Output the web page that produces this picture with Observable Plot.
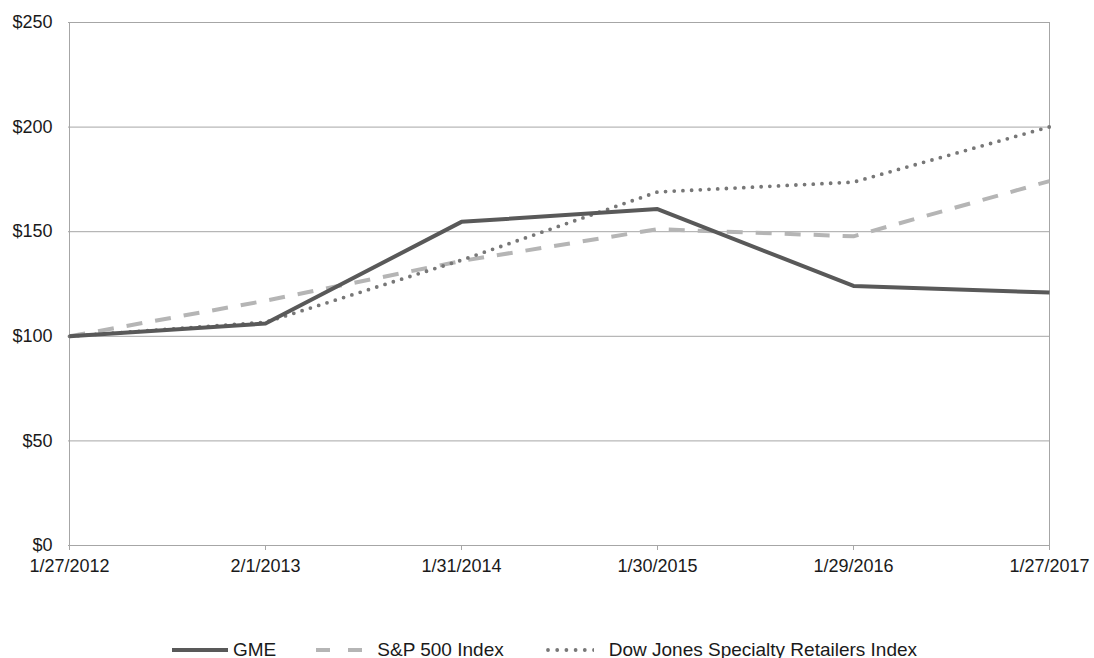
<!DOCTYPE html>
<html>
<head>
<meta charset="utf-8">
<script src="https://cdn.jsdelivr.net/npm/d3@7"></script>
<script src="https://cdn.jsdelivr.net/npm/@observablehq/plot@0.6"></script>
<style>
  html, body { margin: 0; padding: 0; background: #ffffff; }
  body { width: 1094px; height: 658px; position: relative; overflow: hidden; font-family: "Liberation Sans", Arial, sans-serif; }
  #chart { position: absolute; left: 0; top: 0; }
  #legend { position: absolute; left: 172px; top: 639px; height: 22px; line-height: 22px; display: flex; align-items: center; font-size: 19px; color: #1a1a1a; white-space: nowrap; }
  #legend .item { display: flex; align-items: center; }
  #legend svg { display: block; }
</style>
</head>
<body>
<div id="chart"></div>
<div id="legend"></div>
<script>
const dates = ["1/27/2012", "2/1/2013", "1/31/2014", "1/30/2015", "1/29/2016", "1/27/2017"];
const gme = [100, 106.1, 154.7, 160.8, 124.1, 120.9];
const sp500 = [100, 117.0, 136.0, 151.2, 147.8, 174.2];
const djsr = [100, 106.7, 136.4, 169.0, 173.7, 200.1];
const yTicks = [0, 50, 100, 150, 200, 250];
const seriesNames = ["GME", "S&P 500 Index", "Dow Jones Specialty Retailers Index"];

const styles = {
  "GME": {stroke: "#595959", strokeWidth: 4, strokeDasharray: null, strokeLinecap: "butt", legendDash: null},
  "S&P 500 Index": {stroke: "#b5b5b5", strokeWidth: 4, strokeDasharray: "16,13", strokeLinecap: "butt", legendDash: "14,18"},
  "Dow Jones Specialty Retailers Index": {stroke: "#777777", strokeWidth: 3.8, strokeDasharray: "0,8.7", strokeLinecap: "round", legendDash: "0,9.2"}
};

const rows = (name, vals) => dates.map((d, i) => ({date: d, value: vals[i], series: name}));
const gmeRows = rows(seriesNames[0], gme);
const spRows = rows(seriesNames[1], sp500);
const djRows = rows(seriesNames[2], djsr);

const lineMark = (data, name) => Plot.line(data, {
  x: "date", y: "value",
  stroke: styles[name].stroke,
  strokeWidth: styles[name].strokeWidth,
  strokeDasharray: styles[name].strokeDasharray,
  strokeLinecap: styles[name].strokeLinecap,
  strokeLinejoin: "round"
});

const plot = Plot.plot({
  width: 1094,
  height: 600,
  marginLeft: 68,
  marginRight: 44,
  marginTop: 22,
  marginBottom: 55,
  style: {fontFamily: "'Liberation Sans', Arial, sans-serif", background: "#ffffff", color: "#1a1a1a"},
  x: {type: "point", domain: dates, padding: 0, label: null},
  y: {domain: [0, 250], label: null},
  marks: [
    Plot.gridY(yTicks, {stroke: "#a6a6a6", strokeOpacity: 1, strokeWidth: 1}),
    Plot.ruleX([dates[0], dates[dates.length - 1]], {stroke: "#a6a6a6", strokeWidth: 1}),
    Plot.axisX(dates, {tickSize: 5, tickPadding: 9, stroke: "#a6a6a6", fill: "#1a1a1a", fontSize: 18, label: null}),
    Plot.axisY(yTicks, {tickSize: 0, tickPadding: 16, tickFormat: d => "$" + d, fontSize: 18, fill: "#1a1a1a", label: null}),
    lineMark(spRows, seriesNames[1]),
    lineMark(djRows, seriesNames[2]),
    lineMark(gmeRows, seriesNames[0])
  ]
});
document.getElementById("chart").appendChild(plot);

// Legend
const legend = document.getElementById("legend");
const legendLayout = [
  {name: seriesNames[0], w: 56, gapAfterSample: 5, gapBefore: 0},
  {name: seriesNames[1], w: 46, gapAfterSample: 15, gapBefore: 40},
  {name: seriesNames[2], w: 48, gapAfterSample: 15, gapBefore: 42}
];
legendLayout.forEach(it => {
  const s = styles[it.name];
  const item = document.createElement("div");
  item.className = "item";
  item.style.marginLeft = it.gapBefore + "px";
  const svg = d3.create("svg").attr("width", it.w).attr("height", 10);
  const round = s.strokeLinecap === "round";
  svg.append("line")
    .attr("x1", round ? 2 : 0).attr("x2", it.w).attr("y1", 5).attr("y2", 5)
    .attr("stroke", s.stroke).attr("stroke-width", s.strokeWidth)
    .attr("stroke-dasharray", s.legendDash)
    .attr("stroke-linecap", s.strokeLinecap);
  item.appendChild(svg.node());
  const span = document.createElement("span");
  span.textContent = it.name;
  span.style.marginLeft = it.gapAfterSample + "px";
  item.appendChild(span);
  legend.appendChild(item);
});
</script>
</body>
</html>
